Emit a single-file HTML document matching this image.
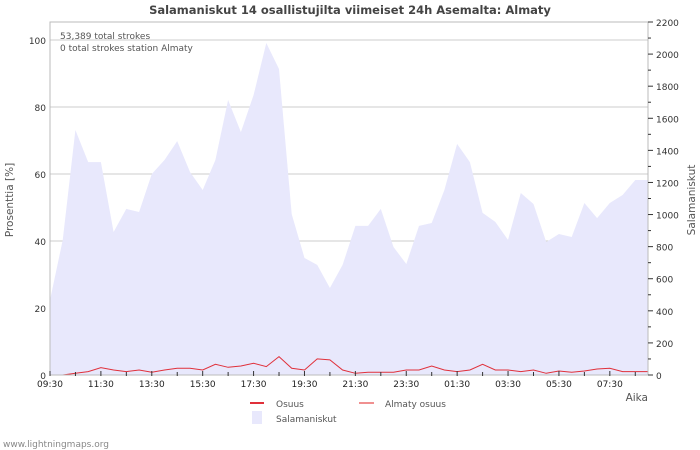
<!DOCTYPE html>
<html><head><meta charset="utf-8"><style>
body{margin:0;background:#fff;}
svg{display:block;font-family:"DejaVu Sans","Liberation Sans",sans-serif;}
</style></head><body>
<svg id="chart" width="700" height="450" viewBox="0 0 700 450">
<rect x="0" y="0" width="700" height="450" fill="#fff"/>
<text x="350" y="14" text-anchor="middle" font-size="11.5" font-weight="bold" fill="#444">Salamaniskut 14 osallistujilta viimeiset 24h Asemalta: Almaty</text>
<g id="grid"></g>
<g id="area"></g>
<g id="lines"></g>
<g id="axes"></g>
<text x="60" y="39" font-size="9" fill="#555">53,389 total strokes</text>
<text x="60" y="51" font-size="9" fill="#555">0 total strokes station Almaty</text>
<text transform="translate(13,200) rotate(-90)" text-anchor="middle" font-size="10.5" fill="#555">Prosenttia   [%]</text>
<text transform="translate(695,200) rotate(-90)" text-anchor="middle" font-size="10.5" fill="#555">Salamaniskut</text>
<text x="648" y="401" text-anchor="end" font-size="10.5" fill="#555">Aika</text>
<g>
<line x1="250" y1="403" x2="264" y2="403" stroke="#e0303a" stroke-width="2"/>
<text x="276" y="407" font-size="9" fill="#555">Osuus</text>
<line x1="359" y1="403" x2="374" y2="403" stroke="#f09090" stroke-width="2"/>
<text x="385" y="407" font-size="9" fill="#555">Almaty osuus</text>
<rect x="252" y="411" width="10" height="13" fill="#e8e8fc"/>
<text x="276" y="422" font-size="9" fill="#555">Salamaniskut</text>
</g>
<text x="3" y="447" font-size="9" fill="#888">www.lightningmaps.org</text>
</svg>
<script>
const strokes=[467,840,1527,1327,1327,891,1035,1016,1253,1340,1458,1265,1153,1340,1714,1514,1745,2069,1907,1003,729,686,542,686,929,929,1035,798,692,929,947,1153,1440,1327,1010,954,842,1134,1066,829,879,860,1072,978,1072,1122,1215,1215];
const osuus=[0,0,0.5,1,2.2,1.5,1,1.5,0.8,1.5,2,2,1.5,3.2,2.3,2.7,3.5,2.5,5.5,2,1.5,4.8,4.5,1.5,0.5,0.8,0.8,0.8,1.5,1.5,2.7,1.5,1,1.5,3.2,1.5,1.5,1,1.5,0.5,1.2,0.8,1.2,1.8,2,1,1,1];
const leftTicks=[0,20,40,60,80,100];
const rightTicks=[0,200,400,600,800,1000,1200,1400,1600,1800,2000,2200];
const xLabels=["09:30","11:30","13:30","15:30","17:30","19:30","21:30","23:30","01:30","03:30","05:30","07:30"];
const NS="http://www.w3.org/2000/svg";
const X0=50,X1=648,Y0=375,YT=22;
const step=(X1-X0)/(strokes.length-1);
const xAt=i=>X0+i*step;
const yL=v=>Y0-v*3.35;
const yR=v=>Y0-v*(Y0-YT)/2200;
function mk(tag,attrs,parent){const e=document.createElementNS(NS,tag);for(const k in attrs)e.setAttribute(k,attrs[k]);parent.appendChild(e);return e;}
const grid=document.getElementById('grid'),area=document.getElementById('area'),lines=document.getElementById('lines'),axes=document.getElementById('axes');
leftTicks.forEach(t=>{
 if(t>0){const g=mk('line',{x1:X0,x2:X1,y1:yL(t),y2:yL(t),stroke:'#ccc'},grid);
 
 }
 const l=mk('text',{x:X0-4,y:yL(t)+4,'text-anchor':'end','font-size':'9',fill:'#333'},axes);
 l.textContent=t;
 
 
});
let d='M'+X0+','+Y0;
strokes.forEach((v,i)=>{d+=' L'+xAt(i).toFixed(1)+','+yR(v).toFixed(1);});
d+=' L'+X1+','+Y0+' Z';
const a=mk('path',{d:d,fill:'#e8e8fc',stroke:'none'},area);


const pts=osuus.map((v,i)=>xAt(i).toFixed(1)+','+yL(v).toFixed(1)).join(' ');
const pl=mk('polyline',{points:pts,fill:'none',stroke:'#e0303a','stroke-width':1},lines);


const fr=mk('rect',{x:X0,y:YT,width:X1-X0,height:Y0-YT,fill:'none',stroke:'#bbb'},axes);


rightTicks.forEach(t=>{
 const tk=mk('line',{x1:X1,x2:X1+5,y1:yR(t),y2:yR(t),stroke:'#333'},axes);
 
 
 if(t<2200){const m=mk('line',{x1:X1,x2:X1+3,y1:yR(t+100),y2:yR(t+100),stroke:'#333'},axes);
 
 }
 const l=mk('text',{x:X1+8,y:yR(t)+4,'font-size':'9',fill:'#333'},axes);
 l.textContent=t;
 
 
});
const hourPx=step*2;
for(let h=0;h<=23;h++){
 const x=X0+h*hourPx;
 if(x>X1)break;
 const tk=mk('line',{x1:x,x2:x,y1:Y0+1,y2:Y0-(h%2===0?4:3),stroke:'#333'},axes);
 
 
}
xLabels.forEach((s,i)=>{
 const l=mk('text',{x:X0+i*2*hourPx,y:Y0+12,'text-anchor':'middle','font-size':'9',fill:'#222'},axes);
 l.textContent=s;
 
 
});
</script>
</body></html>
